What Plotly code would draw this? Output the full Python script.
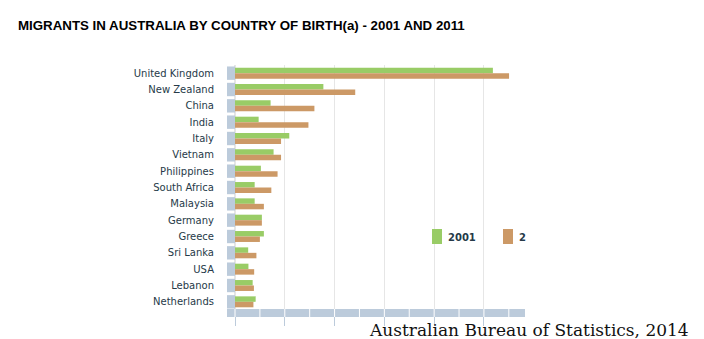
import plotly.graph_objects as go

# ---- data ----
countries = ["United Kingdom", "New Zealand", "China", "India", "Italy", "Vietnam",
             "Philippines", "South Africa", "Malaysia", "Germany", "Greece",
             "Sri Lanka", "USA", "Lebanon", "Netherlands"]
v2001 = [1036000, 355000, 143000, 95000, 218000, 155000, 104000, 79000, 79000,
         108000, 116000, 53000, 54000, 71000, 83000]
v2011 = [1101000, 483000, 319000, 295000, 185000, 185000, 171000, 146000, 116000,
         108000, 100000, 86000, 77000, 76000, 74000]
series_names = ["2001", "2"]

GREEN = "#99cc66"
ORANGE = "#cc9966"
WALL = "#bccbdb"
TXT = "#263a48"

W_PX, H_PX = 704, 339
ML, MR, MT, MB = 235, 179, 65, 29
PW = W_PX - ML - MR
PH = H_PX - MT - MB
XMAX = 1165000


def px_x(px):
    return (px - ML) / PW


def px_y(py):
    return (H_PX - MB - py) / PH


fig = go.Figure()
fig.add_trace(go.Bar(y=countries, x=v2001, orientation="h", name=series_names[0],
                     marker=dict(color=GREEN, line=dict(width=0))))
fig.add_trace(go.Bar(y=countries, x=v2011, orientation="h", name=series_names[1],
                     marker=dict(color=ORANGE, line=dict(width=0))))

shapes = []
n = len(countries)
# left wall segments
for i in range(n):
    c = 1 - (i + 0.5) / n
    half = 0.41 / n
    shapes.append(dict(type="rect", xref="paper", yref="paper",
                       x0=px_x(227), x1=0, y0=c - half, y1=c + half,
                       fillcolor=WALL, line=dict(width=0), layer="above"))
# floor
shapes.append(dict(type="rect", xref="paper", yref="paper",
                   x0=px_x(227), x1=px_x(525), y0=px_y(317), y1=px_y(309),
                   fillcolor=WALL, line=dict(width=0), layer="above"))
for k in range(0, 12):
    xv = k * 100000 / XMAX
    shapes.append(dict(type="line", xref="paper", yref="paper",
                       x0=xv, x1=xv, y0=px_y(317), y1=px_y(309),
                       line=dict(color="white", width=1), layer="above"))
# legend swatches
shapes.append(dict(type="rect", xref="paper", yref="paper",
                   x0=px_x(432), x1=px_x(442), y0=px_y(244), y1=px_y(229),
                   fillcolor=GREEN, line=dict(width=0), layer="above"))
shapes.append(dict(type="rect", xref="paper", yref="paper",
                   x0=px_x(503), x1=px_x(513), y0=px_y(244), y1=px_y(229),
                   fillcolor=ORANGE, line=dict(width=0), layer="above"))

annotations = [
    dict(text=series_names[0], xref="paper", yref="paper", x=px_x(446), y=px_y(237),
         xanchor="left", yanchor="middle", showarrow=False,
         font=dict(family="DejaVu Sans", size=10, color=TXT, weight="bold")),
    dict(text=series_names[1], xref="paper", yref="paper", x=px_x(517), y=px_y(237),
         xanchor="left", yanchor="middle", showarrow=False,
         font=dict(family="DejaVu Sans", size=10, color=TXT, weight="bold")),
    dict(text="Australian Bureau of Statistics, 2014", xref="paper", yref="paper",
         x=px_x(691), y=px_y(330), xanchor="right", yanchor="middle", showarrow=False,
         font=dict(family="DejaVu Serif", size=17, color="#111111")),
]

fig.update_layout(
    width=W_PX, height=H_PX,
    margin=dict(l=ML, r=MR, t=MT, b=MB, pad=0),
    paper_bgcolor="white", plot_bgcolor="white",
    barmode="group", bargap=0.33, bargroupgap=0,
    showlegend=False,
    title=dict(text="MIGRANTS IN AUSTRALIA BY COUNTRY OF BIRTH(a) - 2001 AND 2011",
               xref="container", yref="container", x=18 / W_PX, xanchor="left",
               y=1 - 25 / H_PX, yanchor="middle",
               font=dict(family="Liberation Sans, Arial", size=13.3,
                         color="black", weight="bold")),
    xaxis=dict(range=[0, XMAX], dtick=200000, tick0=0, showgrid=True,
               gridcolor="#e6e6e6", gridwidth=1, zeroline=True, zerolinecolor="#e6e6e6",
               showticklabels=False, ticks="outside", ticklen=15, tickcolor=WALL,
               showline=False, fixedrange=True),
    yaxis=dict(categoryorder="array", categoryarray=countries, autorange="reversed",
               showgrid=False, zeroline=False, showline=False, ticks="",
               ticklabelstandoff=20,
               tickfont=dict(family="DejaVu Sans", size=10, color=TXT)),
    shapes=shapes, annotations=annotations,
)

fig.write_html("out.html")
